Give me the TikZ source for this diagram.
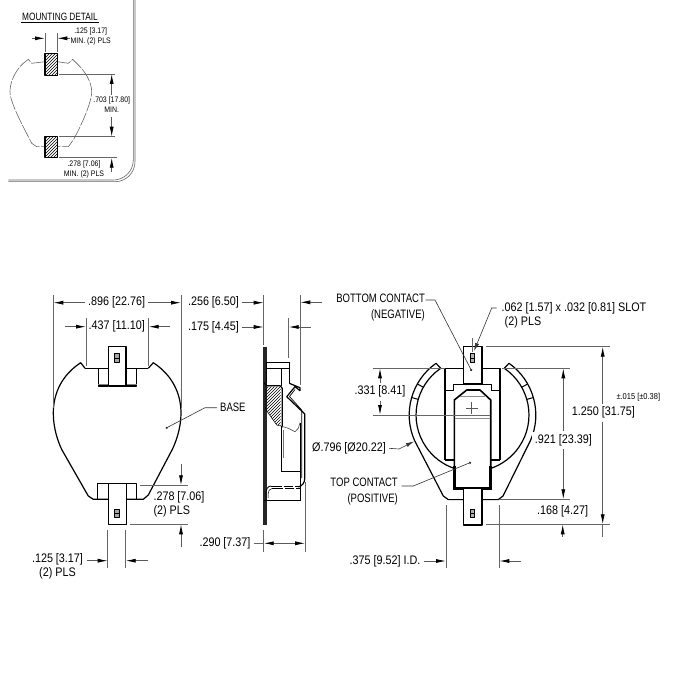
\documentclass[tikz,border=0pt]{standalone}
\usepackage{fontspec}
\setmainfont[FakeStretch=0.87]{Liberation Sans}
\newfontfamily\capfont[FakeStretch=0.78]{Liberation Sans}
\usetikzlibrary{arrows.meta,patterns}
\tikzset{
	outline/.style={draw=black,line width=1.2pt,line join=round},
	heavy/.style={draw=black,line width=2pt},
	thinline/.style={draw=black!70,line width=0.6pt},
	extline/.style={draw=black!60,line width=0.8pt},
	dimarrow/.style={draw=black!65,line width=0.8pt,-{Latex[length=10pt,width=4pt,color=black]}},
	leaderline/.style={draw=black!80,line width=0.6pt},
	dimtext/.style={font=\fontsize{12.4}{14}\selectfont,inner sep=3pt},
	captext/.style={font=\capfont\fontsize{12.2}{15.5}\selectfont,inner sep=3pt},
	smalltext/.style={font=\fontsize{8}{10}\selectfont,inner sep=1pt},
	hatched/.style={pattern=north east lines,pattern color=black}
}
\begin{document}
\begin{tikzpicture}[x=1pt,y=1pt,yscale=-1]
	\useasboundingbox (0,0) rectangle (700,700);
	\fill[white] (0,0) rectangle (700,700);

	% mounting detail
	\draw[draw=black!60,line width=0.6pt,rounded corners=20pt] (133.3,0) -- (133.3,180) -- (8.3,180);
	\draw[draw=black!60,line width=0.6pt,rounded corners=20pt] (135,0) -- (135,181.7) -- (8.3,181.7);
	\node[font=\capfont\fontsize{10.6}{12}\selectfont,inner sep=1pt] (detailtitle) at (60,17) {MOUNTING DETAIL};
	\draw[line width=0.7pt] (detailtitle.south west) -- (detailtitle.south east);
	\draw[draw=black!60,line width=0.6pt,dash pattern=on 14pt off 1.5pt] (45,61.7) -- (31.7,63.3) -- (28.3,59.3) -- (23.3,63.3) .. controls (15,71) and (10,82) .. (10,91.7) .. controls (10,103) and (24,128) .. (31.7,143.3) -- (36.7,146.7) -- (45,146.7);
	\draw[draw=black!60,line width=0.6pt,dash pattern=on 14pt off 1.5pt] (57.3,61.7) -- (68.3,63.3) -- (72.7,59.3) -- (76.7,63.3) .. controls (85,71) and (91.7,82) .. (91.7,91.7) .. controls (91.7,103) and (80,128) .. (73.3,140) -- (68.3,146.7) -- (57.3,146.7);
	\draw[outline,hatched] (45,53.3) rectangle (57.3,75.3);
	\draw[outline,hatched] (45,136.7) rectangle (57.3,157.7);
	\draw[extline] (45,33.3) -- (45,52);
	\draw[extline] (57.3,33.3) -- (57.3,52);
	\draw[extline] (59.3,74) -- (115,74);
	\draw[extline] (59.3,136.7) -- (115,136.7);
	\draw[extline] (59.3,157.7) -- (116.7,157.7);
	\draw[dimarrow] (32.3,38.3) -- (45,38.3);
	\draw[dimarrow] (70,38.3) -- (57.3,38.3);
	\node[smalltext] (detailwidth) at (90.7,37) {\begin{tabular}{@{}c@{}}.125 [3.17]\\MIN. (2) PLS\end{tabular}};
	\node[smalltext,fill=white] (detailspan) at (111.7,106) {\begin{tabular}{@{}c@{}}.703 [17.80]\\MIN.\end{tabular}};
	\draw[dimarrow] (detailspan.north) -- (111.7,74);
	\draw[dimarrow] (detailspan.south) -- (111.7,136.7);
	\coordinate (detailstub) at (111.7,171.7);
	\draw[dimarrow] (detailstub) -- (111.7,157.7);
	\node[smalltext] (detaildepth) at (84,169.5) {\begin{tabular}{@{}c@{}}.278 [7.06]\\MIN. (2) PLS\end{tabular}};

	% base view
	\draw[outline] (85,368.3) -- (80.7,362.7) .. controls (62,375) and (53.3,393) .. (53.3,413.3) .. controls (53.3,428) and (58,442) .. (62,450) -- (88.3,496) -- (93.3,499.3) -- (108.3,499.3);
	\draw[outline] (148.3,368.3) -- (153.3,362.7) .. controls (172,375) and (181,393) .. (181,413.3) .. controls (181,428) and (176,442) .. (172,450) -- (148.3,495) -- (143.3,499.3) -- (126.7,499.3);
	\draw[outline] (85,368.3) -- (108.3,368.3) (126,368.3) -- (148.3,368.3);
	\draw[outline] (98.3,368.3) -- (98.3,386) -- (108.3,386);
	\draw[outline] (136.7,368.3) -- (136.7,386) -- (126,386);
	\draw[draw=black!50,line width=1pt] (98.3,384) -- (108.3,384) (126,384) -- (136.7,384);
	\draw[outline] (108.3,346.7) rectangle (126,386);
	\draw[outline,fill=black!35,line width=0.8pt] (114.7,353.7) rectangle (119.3,362.3);
	\draw[line width=0.5pt] (114.7,358) -- (119.3,358);
	\draw[outline] (97.7,499.3) -- (97.7,483.3) -- (136.7,483.3) -- (136.7,499.3);
	\draw[outline] (108.3,483.3) rectangle (126.7,524.3);
	\draw[outline,fill=black!35,line width=0.8pt] (114.7,509) rectangle (119.3,517);
	\draw[line width=0.5pt] (114.7,513) -- (119.3,513);
	\draw[extline] (53.3,295) -- (53.3,408);
	\draw[extline] (181,295) -- (181,408);
	\draw[extline] (86,318) -- (86,366);
	\draw[extline] (148.7,318) -- (148.7,366);
	\draw[extline] (140,485.3) -- (188.3,485.3);
	\draw[extline] (130,524.3) -- (188.3,524.3);
	\draw[extline] (107.7,530) -- (107.7,568);
	\draw[extline] (125.7,530) -- (125.7,568);
	\node[dimtext] (basewidth) at (116.7,302.7) {.896 [22.76]};
	\draw[dimarrow] (basewidth.west) -- (53.3,302.7);
	\draw[dimarrow] (basewidth.east) -- (181,302.7);
	\node[dimtext] (basegap) at (116.7,326.7) {.437 [11.10]};
	\coordinate (basegapl) at (65,326.7);
	\coordinate (basegapr) at (170,326.7);
	\draw[dimarrow] (basegapl) -- (86,326.7);
	\draw[dimarrow] (basegapr) -- (148.7,326.7);
	\node[dimtext,inner sep=0pt] (basedepth) at (179,504.5) {\begin{tabular}{@{}l@{}}.278 [7.06]\\(2) PLS\end{tabular}};
	\coordinate (basedeptht) at (181,464);
	\coordinate (basedepthb) at (181,546.7);
	\draw[dimarrow] (basedeptht) -- (181,485.3);
	\draw[dimarrow] (basedepthb) -- (181,524.3);
	\node[dimtext,inner sep=0pt] (basetab) at (57.5,567) {\begin{tabular}{@{}c@{}}.125 [3.17]\\(2) PLS\end{tabular}};
	\coordinate (basetabl) at (86.7,560.7);
	\coordinate (basetabr) at (148.3,560.7);
	\draw[dimarrow] (basetabl) -- (107.7,560.7);
	\draw[dimarrow] (basetabr) -- (125.7,560.7);
	\node[captext,anchor=west] (baselabel) at (217,407.7) {BASE};
	\coordinate (basedot) at (165.7,428.3);
	\draw[leaderline,-{Circle[length=2.2pt]}] (baselabel.west) -- (205,407.7) -- (basedot);

	% side view
	\draw[draw=black!85,line width=3.2pt] (265,346.7) -- (265,525);
	\draw[thinline,draw=black,line width=0.8pt] (266.7,362.7) rectangle (289.3,368.3);
	\draw[thinline,draw=black] (266.7,368.3) -- (266.7,382.7);
	\draw[thinline,draw=black] (281,368.3) -- (281,386);
	\draw[thinline,draw=black] (289.3,368.3) -- (289.3,383);
	\path[hatched] (265,386.7) -- (280.7,386.7) -- (280.7,426) -- (276.7,425) -- (265,408.3) -- cycle;
	\draw[line width=0.5pt] (265,408.3) -- (276.7,425) -- (280.7,426);
	\draw[outline] (264.3,382.7) -- (266.7,385.7) -- (280,385.7) -- (282.3,388.3) -- (282.3,427.3);
	\draw[outline] (289.3,383.3) -- (300,387.7) -- (300,390.7) -- (295,386.7) -- (286.7,396.7) -- (304.8,414) -- (304.8,478) .. controls (304.8,483) and (302,486) .. (298.3,487);
	\draw[outline,line width=0.7pt] (295,389.5) -- (289.5,396.5) -- (301.7,410) -- (301.7,478);
	\draw[thinline] (281,426) -- (288.3,428.3) -- (295,431.7) -- (298.3,428.3) -- (300,422.7);
	\draw[thinline,draw=black] (281.7,426) -- (281.7,471.7) -- (300,471.7);
	\draw[draw=black!55,line width=1.5pt] (283.3,430) -- (283.3,458);
	\draw[thinline,draw=black] (300.3,423) -- (300.3,500.7);
	\draw[outline] (264.3,500.7) -- (300.3,500.7);
	\draw[outline,line width=0.8pt] (266,500) -- (266,493) .. controls (266,489) and (268,486) .. (271,486);
	\draw[outline,line width=0.5pt] (268,498) -- (268,494) .. controls (268,491) and (270,488.5) .. (272,488.5);
	\draw[line width=0.8pt,dash pattern=on 11pt off 2pt on 9pt off 2pt] (271,486) -- (300,486);
	\draw[line width=0.5pt,dash pattern=on 11pt off 2pt on 9pt off 2pt] (272,488.5) -- (300,488.5);
	\draw[extline] (263.7,295) -- (263.7,345);
	\draw[extline] (300.3,295) -- (300.3,385);
	\draw[extline] (288.7,318) -- (288.7,358);
	\draw[extline] (263.7,530) -- (263.7,551.7);
	\draw[extline,line width=0.5pt] (305.2,482) -- (305.2,551.7);
	\node[dimtext] (sidewidth) at (213.5,302.7) {.256 [6.50]};
	\coordinate (sidewidthr) at (321.7,302.3);
	\draw[dimarrow] (sidewidth.east) -- (263.7,302.7);
	\draw[dimarrow] (sidewidthr) -- (300.3,302.3);
	\node[dimtext] (sidegap) at (213.5,327) {.175 [4.45]};
	\coordinate (sidegapr) at (310.7,327);
	\draw[dimarrow] (sidegap.east) -- (263.7,327);
	\draw[dimarrow] (sidegapr) -- (288.7,327);
	\node[dimtext] (sidedepth) at (225,543.3) {.290 [7.37]};
	\coordinate (sidemid) at (284,543.3);
	\draw[extline] (sidedepth.east) -- (263.7,543.3);
	\draw[dimarrow] (sidemid) -- (263.7,543.3);
	\draw[dimarrow] (sidemid) -- (305.2,543.3);

	% contact view
	\draw[outline] (440.7,368.3) -- (436,363.3) arc[start angle=234.8,end angle=156.4,radius=63.3pt] -- (443.3,496) -- (448.3,499.6) -- (463.3,499.6);
	\draw[outline] (504.3,368.3) -- (509,363.3) arc[start angle=305.2,end angle=383.6,radius=63.3pt] -- (503,496) -- (498.3,499.6) -- (482,499.6);
	\draw[outline] (440.7,368.3) arc[start angle=235.7,end angle=108.9,radius=56.5pt];
	\draw[outline] (504.3,368.3) arc[start angle=304.3,end angle=431.1,radius=56.5pt];
	\draw[outline,line width=1pt] (423.3,387.2) -- (417.4,384);
	\draw[outline,line width=1pt] (418.2,399.4) -- (411.7,397.5);
	\draw[outline,line width=1pt] (521.7,387.2) -- (527.6,384);
	\draw[outline,line width=1pt] (526.8,399.4) -- (533.3,397.5);
	\draw[outline] (445,460) -- (445,368.3) -- (463.3,368.3);
	\draw[outline] (500,460) -- (500,368.3) -- (482,368.3);
	\draw[heavy] (445,460) -- (454.3,460) (500,460) -- (490.7,460);
	\draw[outline] (445,390.5) -- (453.3,390.5) -- (453.3,384.3) -- (491.7,384.3) -- (491.7,390.5) -- (500,390.5);
	\draw[outline,fill=white] (463.3,346.7) rectangle (482,384);
	\draw[outline,line width=0.8pt,fill=black!30] (470.3,353.3) rectangle (474.7,362.3);
	\draw[line width=0.5pt] (470.3,358) -- (474.7,358);
	\draw[outline,line width=1.6pt,fill=white] (454.3,488.3) -- (454.3,400) -- (466.7,390) -- (480,390) -- (490.7,400) -- (490.7,488.3) -- cycle;
	\draw[heavy,line width=2.6pt] (454.3,466) -- (454.3,488.3) -- (490.7,488.3) -- (490.7,466);
	\draw[draw=black!45,line width=1pt] (460,396.5) -- (485,396.5);
	\draw[draw=black!45,line width=1pt] (455,418.3) -- (490,418.3);
	\draw[draw=black!65,line width=0.9pt] (465.7,408.3) -- (477.7,408.3) (471.7,402.3) -- (471.7,414.3);
	\draw[outline,fill=white] (463.3,488) rectangle (482,525);
	\draw[outline,line width=0.8pt,fill=black!30] (470.3,509) rectangle (474.7,517.7);
	\draw[line width=0.5pt] (470.3,513.3) -- (474.7,513.3);
	\draw[extline,line width=0.6pt] (373.3,368.3) -- (445,368.3);
	\draw[extline] (373.3,415) -- (490,415);
	\draw[extline,line width=0.6pt] (502,368.3) -- (570,368.3);
	\draw[extline,line width=0.6pt] (485.7,346.7) -- (610,346.7);
	\draw[extline,line width=0.6pt] (499,499.3) -- (570,499.3);
	\draw[extline,line width=0.6pt] (486,524.3) -- (610,524.3);
	\draw[extline] (472.7,338) -- (472.7,352);
	\draw[extline] (446,505) -- (446,568.3);
	\draw[extline,line width=0.6pt] (499.3,505) -- (499.3,568.3);
	\node[dimtext] (stepheight) at (380,391.7) {.331 [8.41]};
	\draw[dimarrow] (stepheight.north) -- (380,368.3);
	\draw[dimarrow] (stepheight.south) -- (380,415);
	\node[captext,anchor=east,align=right] (bottomlabel) at (428,307.5) {BOTTOM CONTACT\\(NEGATIVE)};
	\coordinate (bottomdot) at (471.7,371);
	\draw[leaderline,-{Circle[length=2.2pt]}] (425.5,300) -- (435,300) -- (bottomdot);
	\node[dimtext,anchor=west] (slotlabel) at (498.5,315.5) {\begin{tabular}{@{}l@{}}.062 [1.57] x .032 [0.81] SLOT\\\hspace{3pt}(2) PLS\end{tabular}};
	\coordinate (slottop) at (474,351);
	\draw[leaderline,-{Latex[length=8pt,width=4pt]}] (496.7,308) -- (491.7,308) -- (slottop);
	\node[dimtext] (circledim) at (349,448.3) {Ø.796 [Ø20.22]};
	\coordinate (circlearc) at (414,441.4);
	\draw[leaderline,-{Latex[length=8pt,width=4pt]}] (circledim.east) -- (399,449) -- (circlearc);
	\node[captext,anchor=east,align=right] (toplabel) at (401,491.5) {TOP CONTACT\\(POSITIVE)};
	\coordinate (topdot) at (471,462.3);
	\draw[leaderline,-{Circle[length=2.2pt]}] (401.7,486) -- (413.3,486) -- (topdot);
	\node[dimtext,anchor=east] (innerdim) at (423.5,561) {.375 [9.52] I.D.};
	\coordinate (innerdimr) at (520.7,561);
	\draw[dimarrow] (innerdim.east) -- (446,561);
	\draw[dimarrow] (innerdimr) -- (499.3,561);
	\node[dimtext,fill=white] (totalheight) at (603.3,412.7) {1.250 [31.75]};
	\coordinate (totalstub) at (602.7,536.7);
	\draw[dimarrow] (totalheight.north -| totalstub) -- (602.7,346.7);
	\draw[dimarrow] (totalheight.south -| totalstub) -- (602.7,524.3);
	\draw[extline] (602.7,524.3) -- (totalstub);
	\node[smalltext,font=\fontsize{8.6}{10}\selectfont] (tolerance) at (638.3,397.7) {±.015 [±0.38]};
	\node[dimtext,fill=white] (contactheight) at (563.3,440.3) {.921 [23.39]};
	\draw[dimarrow] (contactheight.north) -- (563.3,368.3);
	\draw[dimarrow] (contactheight.south) -- (563.3,499.3);
	\node[dimtext] (tabheight) at (562.7,511.7) {.168 [4.27]};
	\coordinate (tabstub) at (562.7,536.7);
	\draw[dimarrow] (tabstub) -- (562.7,524.3);
\end{tikzpicture}
\end{document}
